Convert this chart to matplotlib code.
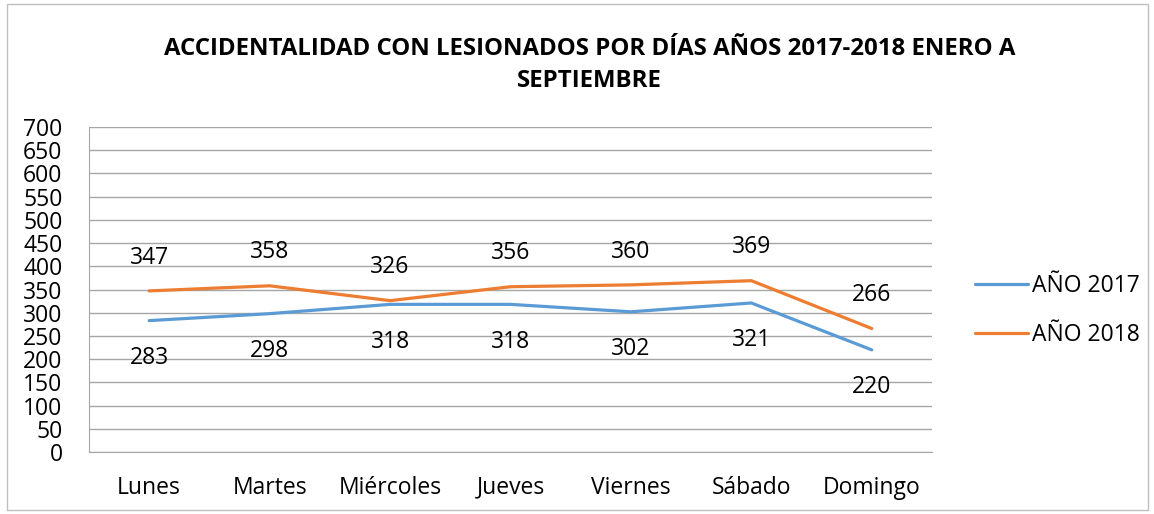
import matplotlib.pyplot as plt
from matplotlib.patches import Rectangle

dias = ["Lunes", "Martes", "Miércoles", "Jueves", "Viernes", "Sábado", "Domingo"]
anio_2017 = [283, 298, 318, 318, 302, 321, 220]
anio_2018 = [347, 358, 326, 356, 360, 369, 266]
y_ticks = list(range(0, 701, 50))

titulo = "ACCIDENTALIDAD CON LESIONADOS POR DÍAS AÑOS 2017-2018 ENERO A\nSEPTIEMBRE"

AZUL = "#5B9BD5"
NARANJA = "#ED7D31"
GRIS = "#A6A6A6"
FS = 16.5

plt.rcParams["font.family"] = ["Open Sans", "DejaVu Sans"]

fig = plt.figure(figsize=(11.54, 5.14), dpi=100)
ax = fig.add_axes([0.0771, 0.1206, 0.7305, 0.6323])

x = list(range(len(dias)))
l1, = ax.plot(x, anio_2017, color=AZUL, lw=2.3, solid_capstyle="round", label="AÑO 2017")
l2, = ax.plot(x, anio_2018, color=NARANJA, lw=2.3, solid_capstyle="round", label="AÑO 2018")

for xi, v in zip(x, anio_2017):
    ax.annotate(str(v), (xi, v), xytext=(0, -27), textcoords="offset points",
                ha="center", va="center", fontsize=FS)
for xi, v in zip(x, anio_2018):
    ax.annotate(str(v), (xi, v), xytext=(0, 24), textcoords="offset points",
                ha="center", va="center", fontsize=FS)

ax.set_xlim(-0.5, len(dias) - 0.5)
ax.set_ylim(0, 700)
ax.set_yticks(y_ticks)
ax.set_xticks(x)
ax.set_xticklabels(dias)
ax.tick_params(axis="both", length=0, labelsize=FS)
ax.tick_params(axis="x", pad=17)
ax.tick_params(axis="y", pad=19)
ax.grid(axis="y", color=GRIS, lw=1)
ax.set_axisbelow(True)
for s in ["top", "right"]:
    ax.spines[s].set_visible(False)
ax.spines["left"].set_color(GRIS)
ax.spines["bottom"].set_color(GRIS)

fig.legend(handles=[l1, l2], loc="center left", bbox_to_anchor=(0.827, 0.396),
           frameon=False, fontsize=FS, handlelength=2.3, handletextpad=0.2,
           labelspacing=1.12)

fig.text(0.511, 0.874, titulo, ha="center", va="center", fontsize=17.3,
         fontweight="bold", linespacing=1.42)

fig.patches.append(Rectangle((0.006, 0.008), 0.989, 0.984, transform=fig.transFigure,
                             fill=False, edgecolor="#BFBFBF", lw=1))

fig.savefig("out.png", dpi=100)
